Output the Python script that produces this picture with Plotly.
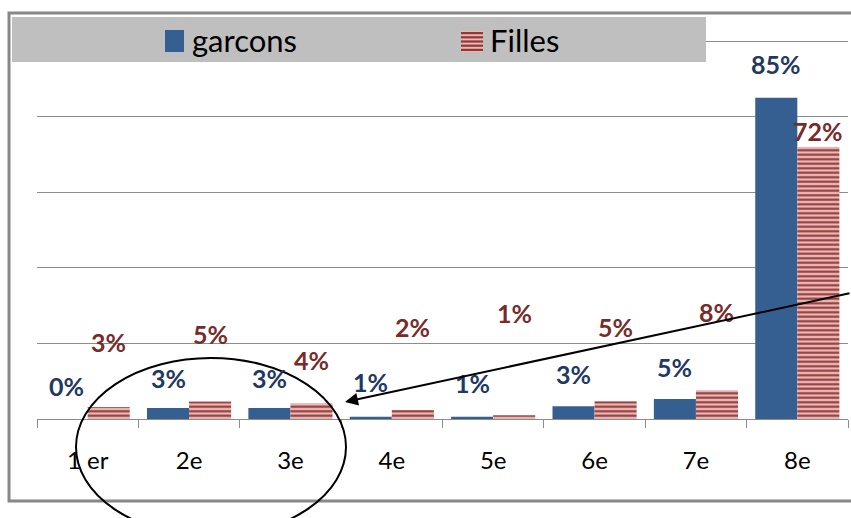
import plotly.graph_objects as go

# chart data
categories = ["1 er", "2e", "3e", "4e", "5e", "6e", "7e", "8e"]
garcons = [0, 2.9, 2.9, 0.6, 0.6, 3.4, 5.3, 85]
filles = [3.2, 4.6, 4.1, 2.4, 1.0, 4.7, 7.6, 72]
y_ticks = [0, 20, 40, 60, 80, 100]

# label lift above each bar top (px), as placed in the original sheet
garcons_lift = [33, 30, 30, 35, 34, 32, 32, 34]
filles_lift = [65, 68, 44, 83, 102, 74, 78, 16]

W, H = 851, 518
L, R, T, B = 37, 3, 40, 99
PW, PH = W - L - R, H - T - B

BLUE = "#365F91"
BLUE_TXT = "#1F3864"
RED_DARK = "#943634"
RED_LIGHT = "#E6B8B7"
RED_TXT = "#772C2A"
FONT = "Lato"


def px_x(x):
    return (x - L) / PW


def px_y(y):
    return (H - B - y) / PH


fig = go.Figure()

fig.add_trace(
    go.Bar(
        x=categories,
        y=garcons,
        name="garcons",
        marker=dict(color=BLUE, line=dict(width=0)),
    )
)

fig.add_trace(
    go.Bar(
        x=categories,
        y=filles,
        name="Filles",
        marker=dict(
            color=RED_LIGHT,
            line=dict(width=0),
            pattern=dict(
                shape="-",
                fgcolor=RED_DARK,
                bgcolor=RED_LIGHT,
                size=4.5,
                solidity=0.45,
                fillmode="replace",
            ),
        ),
    )
)

# data labels
bar_offset = PW / len(categories) * 0.83 / 4
for cat, v, lift in zip(categories, garcons, garcons_lift):
    fig.add_annotation(
        x=cat, y=v, xref="x", yref="y",
        text=f"{round(v)}%", showarrow=False,
        xshift=-bar_offset, yshift=lift, yanchor="middle",
        font=dict(family=FONT, size=25, color=BLUE_TXT, weight="bold"),
    )
for cat, v, lift in zip(categories, filles, filles_lift):
    fig.add_annotation(
        x=cat, y=v, xref="x", yref="y",
        text=f"{round(v)}%", showarrow=False,
        xshift=bar_offset, yshift=lift, yanchor="middle",
        font=dict(family=FONT, size=25, color=RED_TXT, weight="bold"),
    )

# legend drawn like the spreadsheet one (large swatches on a grey band)
for label, x_px in [("garcons", 190), ("Filles", 488)]:
    fig.add_annotation(
        x=px_x(x_px), y=px_y(40), xref="paper", yref="paper",
        text=label, showarrow=False, xanchor="left", yanchor="middle",
        font=dict(family=FONT, size=31, color="black"),
    )

# arrow pointing at the circled classes
fig.add_annotation(
    x=px_x(345), y=px_y(402), xref="paper", yref="paper",
    ax=515, ay=-109, axref="pixel", ayref="pixel",
    text="", showarrow=True,
    arrowhead=2, arrowsize=1.3, arrowwidth=2, arrowcolor="black",
)

shapes = [
    # outer chart frame
    dict(type="rect", xref="paper", yref="paper",
         x0=px_x(9), x1=px_x(875), y0=px_y(501), y1=px_y(13),
         line=dict(color="#878787", width=3), layer="below"),
    # legend band
    dict(type="rect", xref="paper", yref="paper",
         x0=px_x(12), x1=px_x(706), y0=px_y(62), y1=px_y(17),
         fillcolor="#BFBFBF", line=dict(width=0), layer="above"),
    # legend swatch: garcons
    dict(type="rect", xref="paper", yref="paper",
         x0=px_x(165), x1=px_x(184), y0=px_y(52), y1=px_y(30),
         fillcolor=BLUE, line=dict(width=0), layer="above"),
    # legend swatch: Filles (light base)
    dict(type="rect", xref="paper", yref="paper",
         x0=px_x(461), x1=px_x(483), y0=px_y(52), y1=px_y(31),
         fillcolor=RED_LIGHT, line=dict(width=0), layer="above"),
    # ellipse
    dict(type="circle", xref="paper", yref="paper",
         x0=px_x(76), x1=px_x(346), y0=px_y(536), y1=px_y(358),
         line=dict(color="black", width=2)),
]
# dark stripes of the Filles swatch
for k in range(5):
    y_top = 32 + k * 4.2
    shapes.append(
        dict(type="rect", xref="paper", yref="paper",
             x0=px_x(461), x1=px_x(483), y0=px_y(y_top + 2.2), y1=px_y(y_top),
             fillcolor=RED_DARK, line=dict(width=0), layer="above")
    )

fig.update_layout(
    width=W,
    height=H,
    margin=dict(l=L, r=R, t=T, b=B),
    paper_bgcolor="white",
    plot_bgcolor="white",
    barmode="group",
    bargap=0.17,
    bargroupgap=0,
    shapes=shapes,
    font=dict(family=FONT, color="black"),
    showlegend=False,
    xaxis=dict(
        type="category",
        showline=True,
        linecolor="#8C8C8C",
        linewidth=1,
        ticks="outside",
        tickson="boundaries",
        ticklen=8,
        tickcolor="#8C8C8C",
        tickfont=dict(family=FONT, size=24, color="black"),
        ticklabelstandoff=20,
        showgrid=False,
        automargin=False,
    ),
    yaxis=dict(
        range=[0, 100.3],
        tickvals=y_ticks,
        showticklabels=False,
        showgrid=True,
        gridcolor="#8C8C8C",
        gridwidth=1,
        zeroline=False,
        showline=False,
        automargin=False,
    ),
)

fig.write_html(
    "out.html",
    config={"displayModeBar": False},
    post_script="document.body.style.margin = '0';",
)
